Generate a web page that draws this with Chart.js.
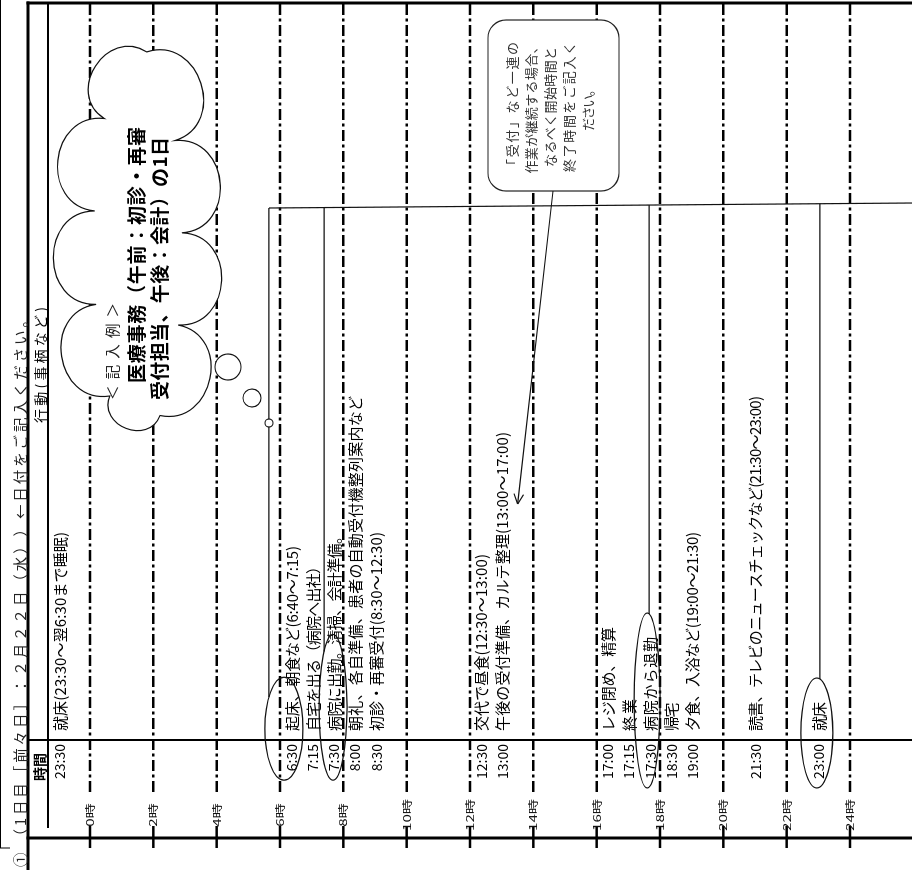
<!DOCTYPE html>
<html>
<head>
<meta charset="utf-8">
<script src="https://cdn.jsdelivr.net/npm/chart.js@4.4.1/dist/chart.umd.min.js"></script>
<style>
  html, body { margin: 0; padding: 0; background: #fff; overflow: hidden; }
  /* the form is drawn upright, then turned a quarter turn like the scanned sheet */
  #sheet-wrap {
    position: absolute; left: 0; top: 0; width: 870px; height: 912px;
    transform-origin: 0 0; transform: translate(0, 870px) rotate(-90deg);
  }
  canvas { display: block; }
</style>
</head>
<body>
<div id="sheet-wrap"><canvas id="sheet" width="870" height="912"></canvas></div>
<script>
// ---- data ----
const titleText = "① （1日目［前々日］：２月２２日（水））←日付をご記入ください。";
const hourTicks = [0, 2, 4, 6, 8, 10, 12, 14, 16, 18, 20, 22, 24];
const entryTimes = ["23:30", "6:30", "7:15", "7:30", "8:00", "8:30", "12:30", "13:00",
  "17:00", "17:15", "17:30", "18:30", "19:00", "21:30", "23:00"];
const entryTexts = [
  "就床(23:30～翌6:30まで睡眠)",
  "起床、朝食など(6:40～7:15)",
  "自宅を出る（病院へ出社）",
  "病院に出勤。清掃、会計準備。",
  "朝礼、各自準備、患者の自動受付機整列案内など",
  "初診・再審受付(8:30～12:30)",
  "交代で昼食(12:30～13:00)",
  "午後の受付準備、カルテ整理(13:00～17:00)",
  "レジ閉め、精算",
  "終業",
  "病院から退勤",
  "帰宅",
  "夕食、入浴など(19:00～21:30)",
  "読書、テレビのニュースチェックなど(21:30～23:00)",
  "就床"
];
const entryRows = [0, 11, 12, 13, 14, 15, 20, 21, 26, 27, 28, 29, 30, 33, 36];
const circledEntries = [1, 3, 10, 14];
const circledChars = [2, 5, 6, 2];
const exampleLines = ["＜記入例＞", "医療事務（午前：初診・再審", "受付担当、午後：会計）の1日"];
const noteLines = ["「受付」など一連の", "作業が継続する場合、", "なるべく開始時間と", "終了時間をご記入く", "ださい。"];
const arrowEntry = 7;

// ---- styles / layout ----
const FAMILY = "'Noto Sans CJK JP', 'Noto Sans', sans-serif";
const rowWidths = [199, 185, 172, 202, 335, 199, 177, 299, 104, 32, 94, 28, 199, 335, 29];
const circleShift = [-8, -1, -3, -2];
const circleRv = [19, 14, 13, 16];
const linkShift = [-15, -9, 2, 3];
const noteWidths = [130, 133, 120, 130, 47];

function line(c, u1, v1, u2, v2) {
  c.beginPath();
  c.moveTo(u1, v1);
  c.lineTo(u2, v2);
  c.stroke();
}

function layoutText(c, str, font, width) {
  c.font = font;
  const chars = Array.from(str);
  const ws = chars.map(ch => c.measureText(ch).width);
  const base = ws.reduce((a, b) => a + b, 0);
  let gap = width ? (width - base) / Math.max(chars.length - 1, 1) : 0;
  gap = Math.max(gap, -1.5);
  const xs = [];
  let x = 0;
  ws.forEach(w => { xs.push(x); x += w + gap; });
  return { chars, ws, xs, total: x - gap };
}

function drawText(c, str, u, v, font, color, width, align) {
  const t = layoutText(c, str, font, width);
  const start = align === "center" ? u - t.total / 2 : align === "right" ? u - t.total : u;
  c.fillStyle = color;
  c.textAlign = "left";
  c.textBaseline = "middle";
  t.chars.forEach((ch, i) => c.fillText(ch, start + t.xs[i], v));
  return t;
}

function cloudPath(c, cu, cv, ru, rv, lobes, bulge) {
  const a = ru - bulge, b = rv - bulge;
  const M = 720, pts = [], len = [0];
  for (let i = 0; i <= M; i++) {
    const t = i / M * Math.PI * 2 + 0.2;
    pts.push([cu + a * Math.cos(t), cv + b * Math.sin(t)]);
    if (i > 0) len.push(len[i - 1] + Math.hypot(pts[i][0] - pts[i - 1][0], pts[i][1] - pts[i - 1][1]));
  }
  const nodes = [];
  let j = 0;
  for (let k = 0; k < lobes; k++) {
    const target = len[M] * k / lobes;
    while (len[j] < target) j++;
    nodes.push(pts[j]);
  }
  c.beginPath();
  c.moveTo(nodes[0][0], nodes[0][1]);
  for (let k = 0; k < lobes; k++) {
    const A = nodes[k], B = nodes[(k + 1) % lobes];
    const dx = B[0] - A[0], dy = B[1] - A[1], L = Math.hypot(dx, dy);
    let nx = dy / L, ny = -dx / L;
    const mx = (A[0] + B[0]) / 2 - cu, my = (A[1] + B[1]) / 2 - cv;
    if (mx * nx + my * ny < 0) { nx = -nx; ny = -ny; }
    const kk = 0.6 * L;
    c.bezierCurveTo(A[0] + nx * kk, A[1] + ny * kk, B[0] + nx * kk, B[1] + ny * kk, B[0], B[1]);
  }
  c.closePath();
}

function roundRectPath(c, u1, v1, u2, v2, r) {
  c.beginPath();
  c.moveTo(u1 + r, v1);
  c.arcTo(u2, v1, u2, v2, r);
  c.arcTo(u2, v2, u1, v2, r);
  c.arcTo(u1, v2, u1, v1, r);
  c.arcTo(u1, v1, u2, v1, r);
  c.closePath();
}

const sheetPlugin = {
  id: "sheet",
  beforeDraw(chart) {
    const c = chart.ctx;
    c.save();
    c.fillStyle = "#fff";
    c.fillRect(0, 0, chart.width, chart.height);
    c.restore();
  },
  afterDraw(chart) {
    const c = chart.ctx;
    const hour = chart.scales.hour;
    const row = chart.scales.row;
    const area = chart.chartArea;
    const uTop = area.right, uBase = area.left;
    c.save();
    c.strokeStyle = "#000";

    // hour grid: dash-dot lines, solid ticks through the base line, labels in between
    hourTicks.forEach(h => {
      const v = hour.getPixelForValue(h);
      c.lineWidth = 2.5;
      c.setLineDash([11, 3.5, 3, 3.5]);
      line(c, 78, v, uTop, v);
      c.setLineDash([]);
      line(c, uBase - 10, v, uBase + 12, v);
      c.save();
      c.translate(55, v);
      c.scale(1.45, 1);
      drawText(c, h + "時", 0, 0, "10.5px " + FAMILY, "#111", null, "center");
      c.restore();
    });

    // frame
    c.lineWidth = 3;
    line(c, 0, 28, uTop + 1.5, 28);
    line(c, uTop, 26.5, uTop, 912);
    line(c, uBase, 26.5, uBase, 912);
    c.lineWidth = 2;
    line(c, 42, 48, uTop, 48);
    line(c, 130, 28, 130, 912);
    c.lineWidth = 1;
    line(c, 22, 0.5, 870, 0.5);
    line(c, 22, 0, 22, 10);

    // headers and title
    drawText(c, "時間", 103, 40, "bold 14px " + FAMILY, "#000", null, "center");
    drawText(c, "行動(事柄など)", 505, 41, "14px " + FAMILY, "#000", 116, "center");
    drawText(c, titleText, 3, 20, "14.5px " + FAMILY, "#222", 554, "left");

    // entries
    const rowText = [];
    entryRows.forEach((r, i) => {
      const v = row.getPixelForValue(r);
      drawText(c, entryTimes[i], 126, v, "14px " + FAMILY, "#000", null, "right");
      rowText.push(drawText(c, entryTexts[i], 139, v, "15px " + FAMILY, "#000", rowWidths[i], "left"));
    });

    // circled entries and the bracket joining them
    c.lineWidth = 1.2;
    c.strokeStyle = "#111";
    const links = [];
    circledEntries.forEach((idx, k) => {
      const v = row.getPixelForValue(entryRows[idx]);
      c.font = "14px " + FAMILY;
      const u0 = 126 - c.measureText(entryTimes[idx]).width - 9;
      const t = rowText[idx], n = circledChars[k] - 1;
      const u1 = 139 + t.xs[n] + t.ws[n] + 24;
      const cu = (u0 + u1) / 2, ru = (u1 - u0) / 2;
      const cv = v + circleShift[k], rv = circleRv[k];
      c.beginPath();
      c.ellipse(cu, cv, ru, rv, 0, 0, Math.PI * 2);
      c.stroke();
      const ratio = Math.min(Math.abs(linkShift[k]) / rv, 0.97);
      links.push({ v: cv + linkShift[k], uEnd: cu + ru * Math.sqrt(1 - ratio * ratio) });
    });
    const hv0 = links[0].v;
    const bracketU = v => 662 + (v - hv0) / (912 - hv0) * 5;
    line(c, bracketU(hv0), hv0, bracketU(912), 912);
    links.forEach(l => line(c, bracketU(l.v), l.v, l.uEnd, l.v));

    // example cloud with thought bubbles
    c.fillStyle = "#fff";
    cloudPath(c, 625, 138, 233, 80, 9, 36);
    c.fill();
    c.stroke();
    [[503, 228, 13], [472, 252, 9], [447, 269, 4]].forEach(([u, v, r]) => {
      c.beginPath();
      c.arc(u, v, r, 0, Math.PI * 2);
      c.fillStyle = "#fff";
      c.fill();
      c.stroke();
    });
    drawText(c, exampleLines[0], 470, 112, "14.5px " + FAMILY, "#222", 97, "left");
    drawText(c, exampleLines[1], 487, 137, "bold 19px " + FAMILY, "#000", 256, "left");
    drawText(c, exampleLines[2], 470, 160, "bold 19px " + FAMILY, "#000", 263, "left");

    // note box and its arrow
    c.strokeStyle = "#222";
    c.fillStyle = "#fff";
    roundRectPath(c, 679, 488, 850, 619, 18);
    c.fill();
    c.stroke();
    noteLines.forEach((s, i) => {
      drawText(c, s, 763, 512 + 19 * i, "13px " + FAMILY, "#333", noteWidths[i], "center");
    });
    const at = rowText[arrowEntry];
    const cut = entryTexts[arrowEntry].indexOf("(");
    const tipU = 139 + at.xs[cut] + 30;
    const tipV = row.getPixelForValue(entryRows[arrowEntry]) + 15;
    const fromU = 679, fromV = 553;
    c.strokeStyle = "#111";
    line(c, fromU, fromV, tipU, tipV);
    const L = Math.hypot(fromU - tipU, fromV - tipV);
    const du = (fromU - tipU) / L, dv = (fromV - tipV) / L;
    [1, -1].forEach(s => {
      const a = s * 0.45;
      const wu = du * Math.cos(a) - dv * Math.sin(a), wv = du * Math.sin(a) + dv * Math.cos(a);
      line(c, tipU, tipV, tipU + wu * 11, tipV + wv * 11);
    });
    c.restore();
  }
};

const ctx = document.getElementById("sheet");
const sheet = new Chart(ctx, {
  type: "scatter",
  data: {
    datasets: [{
      label: "entries",
      data: entryRows.map(r => ({ x: 0.5, y: r })),
      yAxisID: "row",
      pointRadius: 0,
    }],
  },
  options: {
    responsive: false,
    animation: false,
    devicePixelRatio: 1,
    layout: { padding: { left: 32, right: 3, top: 90, bottom: 62 } },
    plugins: { legend: { display: false }, tooltip: { enabled: false } },
    scales: {
      x: { type: "linear", min: 0, max: 1, display: false },
      hour: { type: "linear", position: "left", min: 0, max: 24, reverse: true, display: false },
      row: { type: "linear", position: "right", min: 1.42, max: 37.48, reverse: true, display: false },
    },
  },
  plugins: [sheetPlugin],
});
</script>
</body>
</html>
